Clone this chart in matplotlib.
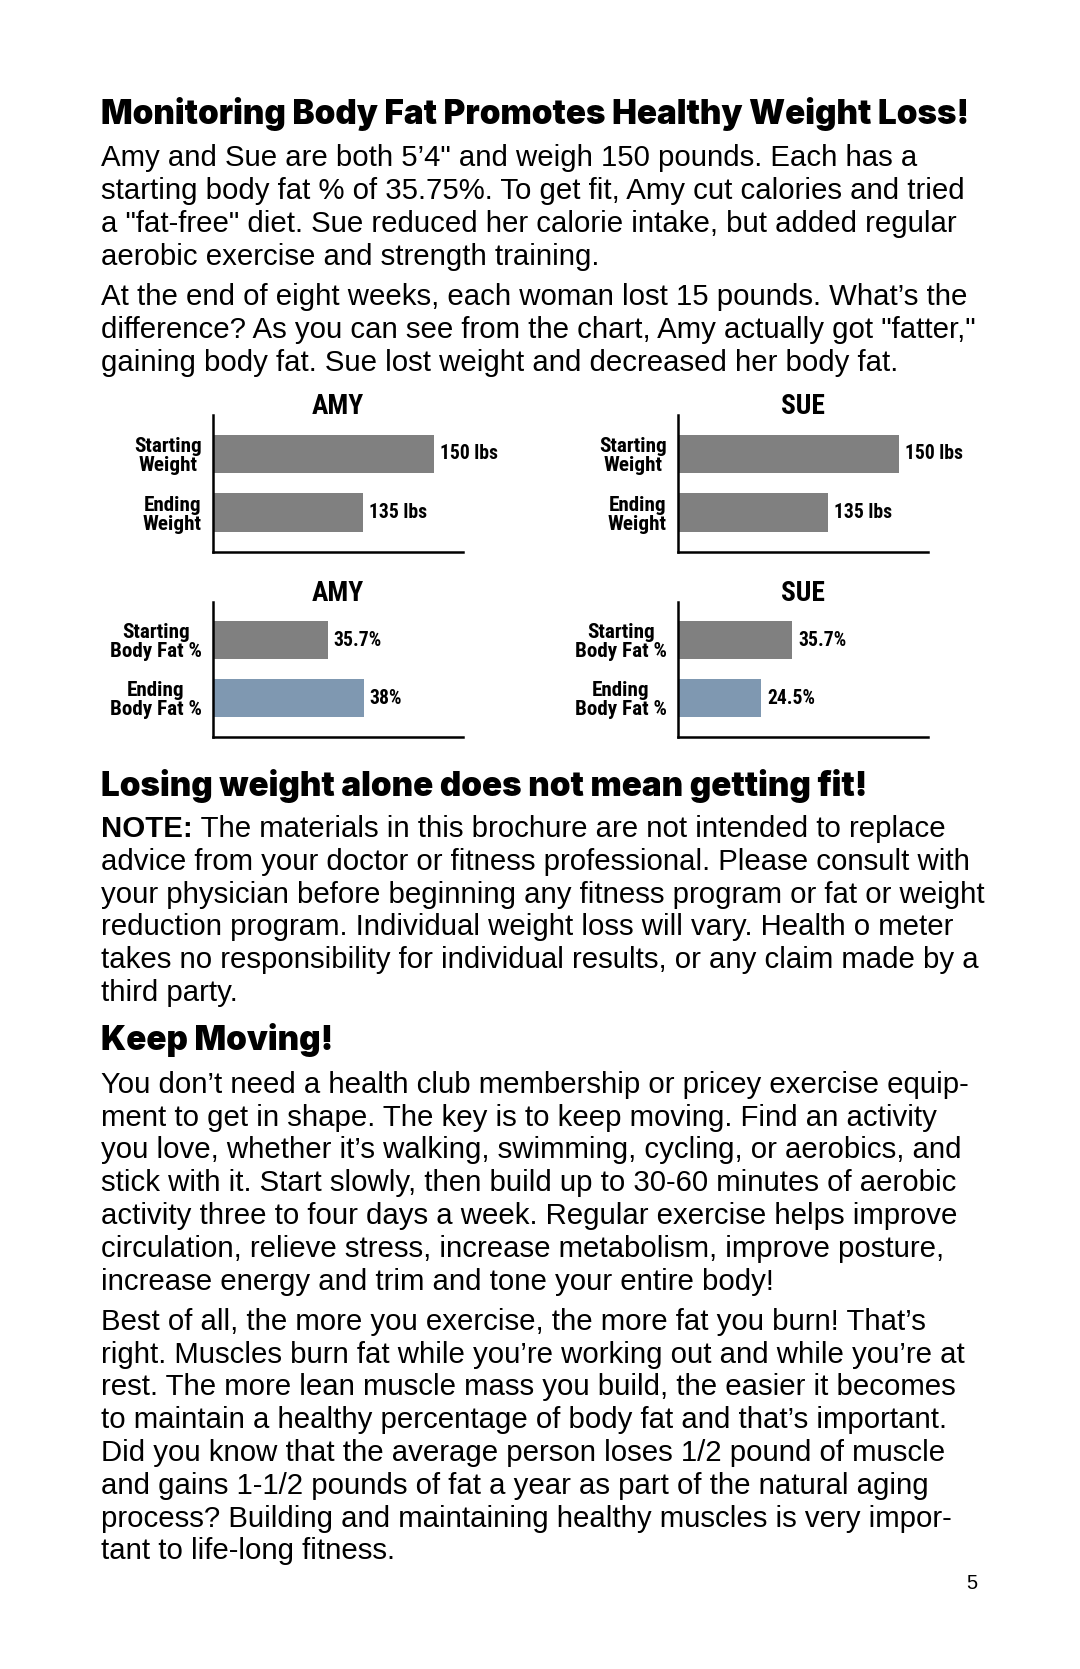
import matplotlib
matplotlib.use('Agg')
import matplotlib.pyplot as plt
from matplotlib import font_manager as fm

# ---------------- data ----------------
people = ['AMY', 'SUE']
weight_labels = ['Starting\nWeight', 'Ending\nWeight']
fat_labels = ['Starting\nBody Fat %', 'Ending\nBody Fat %']
amy_weight = [150, 135]
sue_weight = [150, 135]
amy_fat = [35.7, 38]
sue_fat = [35.7, 24.5]
weight_text = ['150 lbs', '135 lbs']
amy_fat_text = ['35.7%', '38%']
sue_fat_text = ['35.7%', '24.5%']

heading1 = 'Monitoring Body Fat Promotes Healthy Weight Loss!'
para1 = ['Amy and Sue are both 5\u20194" and weigh 150 pounds. Each has a',
         'starting body fat % of 35.75%. To get fit, Amy cut calories and tried',
         'a "fat-free" diet. Sue reduced her calorie intake, but added regular',
         'aerobic exercise and strength training.']
para2 = ['At the end of eight weeks, each woman lost 15 pounds. What\u2019s the',
         'difference? As you can see from the chart, Amy actually got "fatter,"',
         'gaining body fat. Sue lost weight and decreased her body fat.']
heading2 = 'Losing weight alone does not mean getting fit!'
note_lead = 'NOTE:'
para3 = [' The materials in this brochure are not intended to replace',
         'advice from your doctor or fitness professional. Please consult with',
         'your physician before beginning any fitness program or fat or weight',
         'reduction program. Individual weight loss will vary. Health o meter',
         'takes no responsibility for individual results, or any claim made by a',
         'third party.']
heading3 = 'Keep Moving!'
para4 = ['You don\u2019t need a health club membership or pricey exercise equip-',
         'ment to get in shape. The key is to keep moving. Find an activity',
         'you love, whether it\u2019s walking, swimming, cycling, or aerobics, and',
         'stick with it. Start slowly, then build up to 30-60 minutes of aerobic',
         'activity three to four days a week. Regular exercise helps improve',
         'circulation, relieve stress, increase metabolism, improve posture,',
         'increase energy and trim and tone your entire body!']
para5 = ['Best of all, the more you exercise, the more fat you burn! That\u2019s',
         'right. Muscles burn fat while you\u2019re working out and while you\u2019re at',
         'rest. The more lean muscle mass you build, the easier it becomes',
         'to maintain a healthy percentage of body fat and that\u2019s important.',
         'Did you know that the average person loses 1/2 pound of muscle',
         'and gains 1-1/2 pounds of fat a year as part of the natural aging',
         'process? Building and maintaining healthy muscles is very impor-',
         'tant to life-long fitness.']
page_number = '5'

# ---------------- font selection ----------------
def wt(f):
    w = f.weight
    if isinstance(w, str):
        w = fm.weight_dict.get(w, 400)
    return int(w)


def pick(pred, prefs):
    fl = [f for f in fm.fontManager.ttflist if pred(f) and 'CJK' not in f.name]
    for p in prefs:
        for f in sorted(fl, key=lambda f: -wt(f)):
            if f.name.startswith(p):
                return fm.FontProperties(fname=f.fname)
    return None


def is_condensed(f):
    return ('Narrow' in f.name or 'Condensed' in f.name or
            str(f.stretch) in ('condensed', 'semi-condensed', 'extra-condensed',
                               'ultra-condensed'))


head_fp = pick(lambda f: wt(f) >= 800 and f.style == 'normal' and not is_condensed(f),
               ['Inter', 'Roboto', 'Lato', 'Open Sans', 'Noto Sans'])
if head_fp is None:
    head_fp = fm.FontProperties(family='DejaVu Sans', weight='bold')

chart_fp = pick(lambda f: wt(f) >= 600 and f.style == 'normal' and is_condensed(f),
                ['Liberation Sans Narrow', 'Roboto Condensed', 'DejaVu Sans',
                 'Open Sans', 'Noto Sans'])
if chart_fp is None:
    chart_fp = fm.FontProperties(family='Liberation Sans', weight='bold')

# ---------------- styling / layout ----------------
W, H = 1080, 1669
DPI = 100
GREY = '#808080'
BLUE = '#7f98b1'
BODY_FONT = ['Liberation Sans', 'DejaVu Sans']
LEFT = 101

fig = plt.figure(figsize=(W / DPI, H / DPI), dpi=DPI)
fig.patch.set_facecolor('white')
renderer = fig.canvas.get_renderer()


def fy(y):
    return 1 - y / H


def fit_size(s, target_w, fp=None, **kw):
    if fp is not None:
        fp = fp.copy()
        fp.set_size(20)
        t = fig.text(0, 0, s, fontproperties=fp, **kw)
    else:
        t = fig.text(0, 0, s, fontsize=20, **kw)
    w = t.get_window_extent(renderer).width
    t.remove()
    return 20 * target_w / w


def sized(fp, size):
    p = fp.copy()
    p.set_size(size)
    return p


# headings
hfp = sized(head_fp, fit_size(heading1, 869, head_fp))
fig.text(LEFT / W, fy(124), heading1, fontproperties=hfp, va='baseline', ha='left')
fig.text(LEFT / W, fy(796), heading2, fontproperties=hfp, va='baseline', ha='left')
fig.text(LEFT / W, fy(1050), heading3, fontproperties=hfp, va='baseline', ha='left')

# body text
body_kw = dict(family=BODY_FONT)
body_fs = fit_size(para1[1], 862, **body_kw)
LS = 32.8


def paragraph(lines, base):
    for i, s in enumerate(lines):
        fig.text(LEFT / W, fy(base + i * LS), s, fontsize=body_fs, va='baseline',
                 ha='left', **body_kw)


paragraph(para1, 166.5)
paragraph(para2, 305)
t = fig.text(LEFT / W, fy(837), note_lead, fontsize=body_fs, va='baseline', ha='left',
             fontweight='bold', **body_kw)
note_w = t.get_window_extent(renderer).width
fig.text((LEFT + note_w) / W, fy(837), para3[0], fontsize=body_fs, va='baseline',
         ha='left', **body_kw)
paragraph(para3[1:], 837 + LS)
paragraph(para4, 1092.8)
paragraph(para5, 1329.7)
fig.text(971.7 / W, fy(1589.3), page_number, fontsize=14.5, va='baseline', ha='center',
         **body_kw)

# ---------------- charts ----------------
lab_fp = sized(chart_fp, fit_size('Body Fat %', 92, chart_fp))
val_fp = sized(chart_fp, fit_size('150 lbs', 58, chart_fp))
tit_fp = sized(chart_fp, fit_size('AMY', 52, chart_fp))

charts = [
    # (left, right, top, bottom, person, labels, values, texts, colors, xlim)
    (212.5, 463, 415, 552, people[0], weight_labels, amy_weight, weight_text,
     [GREY, GREY], (103.3, 156.2)),
    (677.5, 928, 415, 552, people[1], weight_labels, sue_weight, weight_text,
     [GREY, GREY], (103.3, 156.2)),
    (212.5, 463, 601.5, 737.5, people[0], fat_labels, amy_fat, amy_fat_text,
     [GREY, BLUE], (28.35, 44.35)),
    (677.5, 928, 601.5, 737.5, people[1], fat_labels, sue_fat, sue_fat_text,
     [GREY, BLUE], (-5.4, 84.2)),
]

for (l, r, tp, b, person, labels, vals, texts, colors, xl) in charts:
    ax = fig.add_axes([l / W, 1 - b / H, (r - l) / W, (b - tp) / H])
    lo, hi = xl
    pos = list(range(len(vals)))
    ax.barh(pos, [v - lo for v in vals], left=lo, height=0.65, color=colors,
            edgecolor='none')
    ax.set_xlim(lo, hi)
    ax.set_ylim(1.67, -0.66)
    for sp in ['top', 'right']:
        ax.spines[sp].set_visible(False)
    for sp in ['left', 'bottom']:
        ax.spines[sp].set_linewidth(1.8)
        ax.spines[sp].set_color('black')
    ax.set_xticks([])
    ax.set_yticks(pos)
    ax.set_yticklabels(labels, fontproperties=lab_fp, multialignment='center',
                       linespacing=1.0)
    ax.tick_params(axis='y', length=0, pad=7.6)
    for i, (v, s) in enumerate(zip(vals, texts)):
        ax.annotate(s, xy=(v, i), xytext=(4.3, 0), textcoords='offset points',
                    va='center', ha='left', fontproperties=val_fp)
    ax.text(0.5, 1.005, person, transform=ax.transAxes, ha='center', va='baseline',
            fontproperties=tit_fp)
    ax.set_facecolor('none')

fig.savefig('out.png', dpi=DPI, facecolor='white')
